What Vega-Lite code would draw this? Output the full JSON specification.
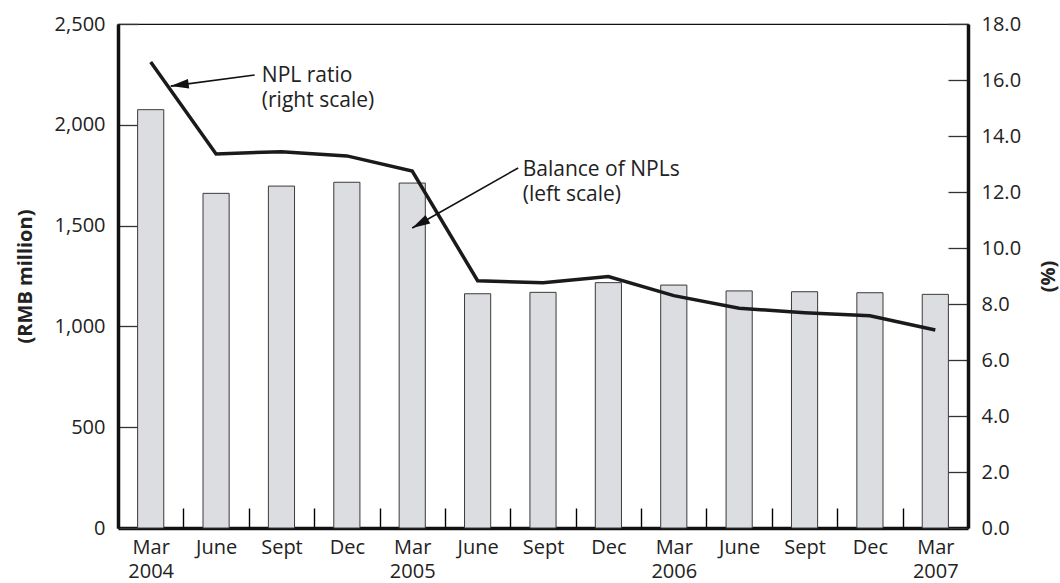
{
  "$schema": "https://vega.github.io/schema/vega-lite/v6.json",
  "width": 850,
  "height": 504,
  "autosize": {"type": "none"},
  "padding": {"left": 118, "top": 24, "right": 92, "bottom": 55},
  "background": "white",
  "config": {
    "font": "Open Sans",
    "view": {"stroke": "#111111", "strokeWidth": 1.2},
    "axis": {"labelColor": "#222222", "titleColor": "#222222", "labelFontSize": 20, "titleFontSize": 20, "grid": false, "zindex": 1}
  },
  "datasets": {
    "q": [
      {"quarter": "Mar 2004", "balance": 2075, "ratio": 16.64},
      {"quarter": "June 2004", "balance": 1660, "ratio": 13.36},
      {"quarter": "Sept 2004", "balance": 1696, "ratio": 13.44},
      {"quarter": "Dec 2004", "balance": 1715, "ratio": 13.29},
      {"quarter": "Mar 2005", "balance": 1711, "ratio": 12.75},
      {"quarter": "June 2005", "balance": 1162, "ratio": 8.83},
      {"quarter": "Sept 2005", "balance": 1169, "ratio": 8.76},
      {"quarter": "Dec 2005", "balance": 1217, "ratio": 8.98},
      {"quarter": "Mar 2006", "balance": 1205, "ratio": 8.30},
      {"quarter": "June 2006", "balance": 1176, "ratio": 7.85},
      {"quarter": "Sept 2006", "balance": 1172, "ratio": 7.69},
      {"quarter": "Dec 2006", "balance": 1167, "ratio": 7.58},
      {"quarter": "Mar 2007", "balance": 1159, "ratio": 7.07}
    ],
    "notes": [
      {"label": "NPL ratio\n(right scale)", "px": 2.2, "pv": 2214},
      {"label": "Balance of NPLs\n(left scale)", "px": 6.19, "pv": 1747}
    ],
    "arrows": [
      {"name": "ratio", "x1": 2.09, "y1": 2247, "x2": 0.806, "y2": 2192},
      {"name": "balance", "x1": 6.12, "y1": 1786, "x2": 4.5, "y2": 1488}
    ]
  },
  "layer": [
    {
      "data": {"name": "q"},
      "mark": {"type": "bar", "fill": "#dcdde0", "stroke": "#3a3a3a", "strokeWidth": 1, "width": {"band": 0.4}},
      "encoding": {
        "x": {
          "field": "quarter", "type": "ordinal", "sort": null,
          "scale": {"type": "band", "paddingInner": 0, "paddingOuter": 0},
          "axis": {
            "title": null, "labelAngle": 0, "tickBand": "extent", "tickSize": -20,
            "tickColor": "#000000", "tickWidth": 1.4, "domainColor": "#111111", "domainWidth": 3.5,
            "labelPadding": 29, "labelBaseline": "top", "labelLineHeight": 24.5,
            "labelExpr": "indexof(datum.label, 'Mar') == 0 ? split(datum.label, ' ') : split(datum.label, ' ')[0]"
          }
        },
        "y": {
          "field": "balance", "type": "quantitative",
          "scale": {"domain": [0, 2500]},
          "axis": {
            "orient": "left", "title": "(RMB million)", "values": [0, 500, 1000, 1500, 2000, 2500],
            "format": ",d", "tickSize": -20, "tickColor": "#333333", "tickWidth": 1.3,
            "domainColor": "#111111", "domainWidth": 3.5, "labelPadding": 33,
            "titleFontWeight": "bold", "titlePadding": 19
          }
        }
      }
    },
    {
      "data": {"name": "q"},
      "mark": {"type": "line", "color": "#1a1a1a", "strokeWidth": 3.5},
      "encoding": {
        "x": {"field": "quarter", "type": "ordinal", "sort": null, "axis": null},
        "y": {
          "field": "ratio", "type": "quantitative",
          "scale": {"domain": [0, 18]},
          "axis": {
            "orient": "right", "title": "(%)", "values": [0, 2, 4, 6, 8, 10, 12, 14, 16, 18],
            "format": ".1f", "tickSize": -20, "tickColor": "#333333", "tickWidth": 1.3,
            "domainColor": "#111111", "domainWidth": 3.5, "labelPadding": 33,
            "titleFontWeight": "bold", "titleAngle": -90, "titlePadding": 38
          }
        }
      }
    },
    {
      "data": {"name": "arrows"},
      "mark": {"type": "rule", "color": "#111111", "strokeWidth": 1.6},
      "encoding": {
        "x": {"field": "x1", "type": "quantitative", "scale": {"domain": [0, 13]}, "axis": null},
        "y": {"field": "y1", "type": "quantitative", "scale": {"domain": [0, 2500]}, "axis": null},
        "x2": {"field": "x2"},
        "y2": {"field": "y2"}
      }
    },
    {
      "data": {"name": "arrows"},
      "transform": [{"filter": "datum.name == 'ratio'"}],
      "mark": {"type": "point", "shape": "M0,0L-1,-0.27L-1,0.27Z", "filled": true, "color": "#111111", "opacity": 1, "size": 1300, "angle": 172.6},
      "encoding": {
        "x": {"field": "x2", "type": "quantitative", "scale": {"domain": [0, 13]}, "axis": null},
        "y": {"field": "y2", "type": "quantitative", "scale": {"domain": [0, 2500]}, "axis": null}
      }
    },
    {
      "data": {"name": "arrows"},
      "transform": [{"filter": "datum.name == 'balance'"}],
      "mark": {"type": "point", "shape": "M0,0L-1,-0.27L-1,0.27Z", "filled": true, "color": "#111111", "opacity": 1, "size": 1300, "angle": 150.5},
      "encoding": {
        "x": {"field": "x2", "type": "quantitative", "scale": {"domain": [0, 13]}, "axis": null},
        "y": {"field": "y2", "type": "quantitative", "scale": {"domain": [0, 2500]}, "axis": null}
      }
    },
    {
      "data": {"name": "notes"},
      "mark": {"type": "text", "align": "left", "baseline": "alphabetic", "fontSize": 21, "lineHeight": 25, "lineBreak": "\n", "color": "#222222"},
      "encoding": {
        "x": {"field": "px", "type": "quantitative", "scale": {"domain": [0, 13]}, "axis": null},
        "y": {"field": "pv", "type": "quantitative", "scale": {"domain": [0, 2500]}, "axis": null},
        "text": {"field": "label"}
      }
    }
  ],
  "resolve": {"scale": {"x": "independent", "y": "independent"}}
}
